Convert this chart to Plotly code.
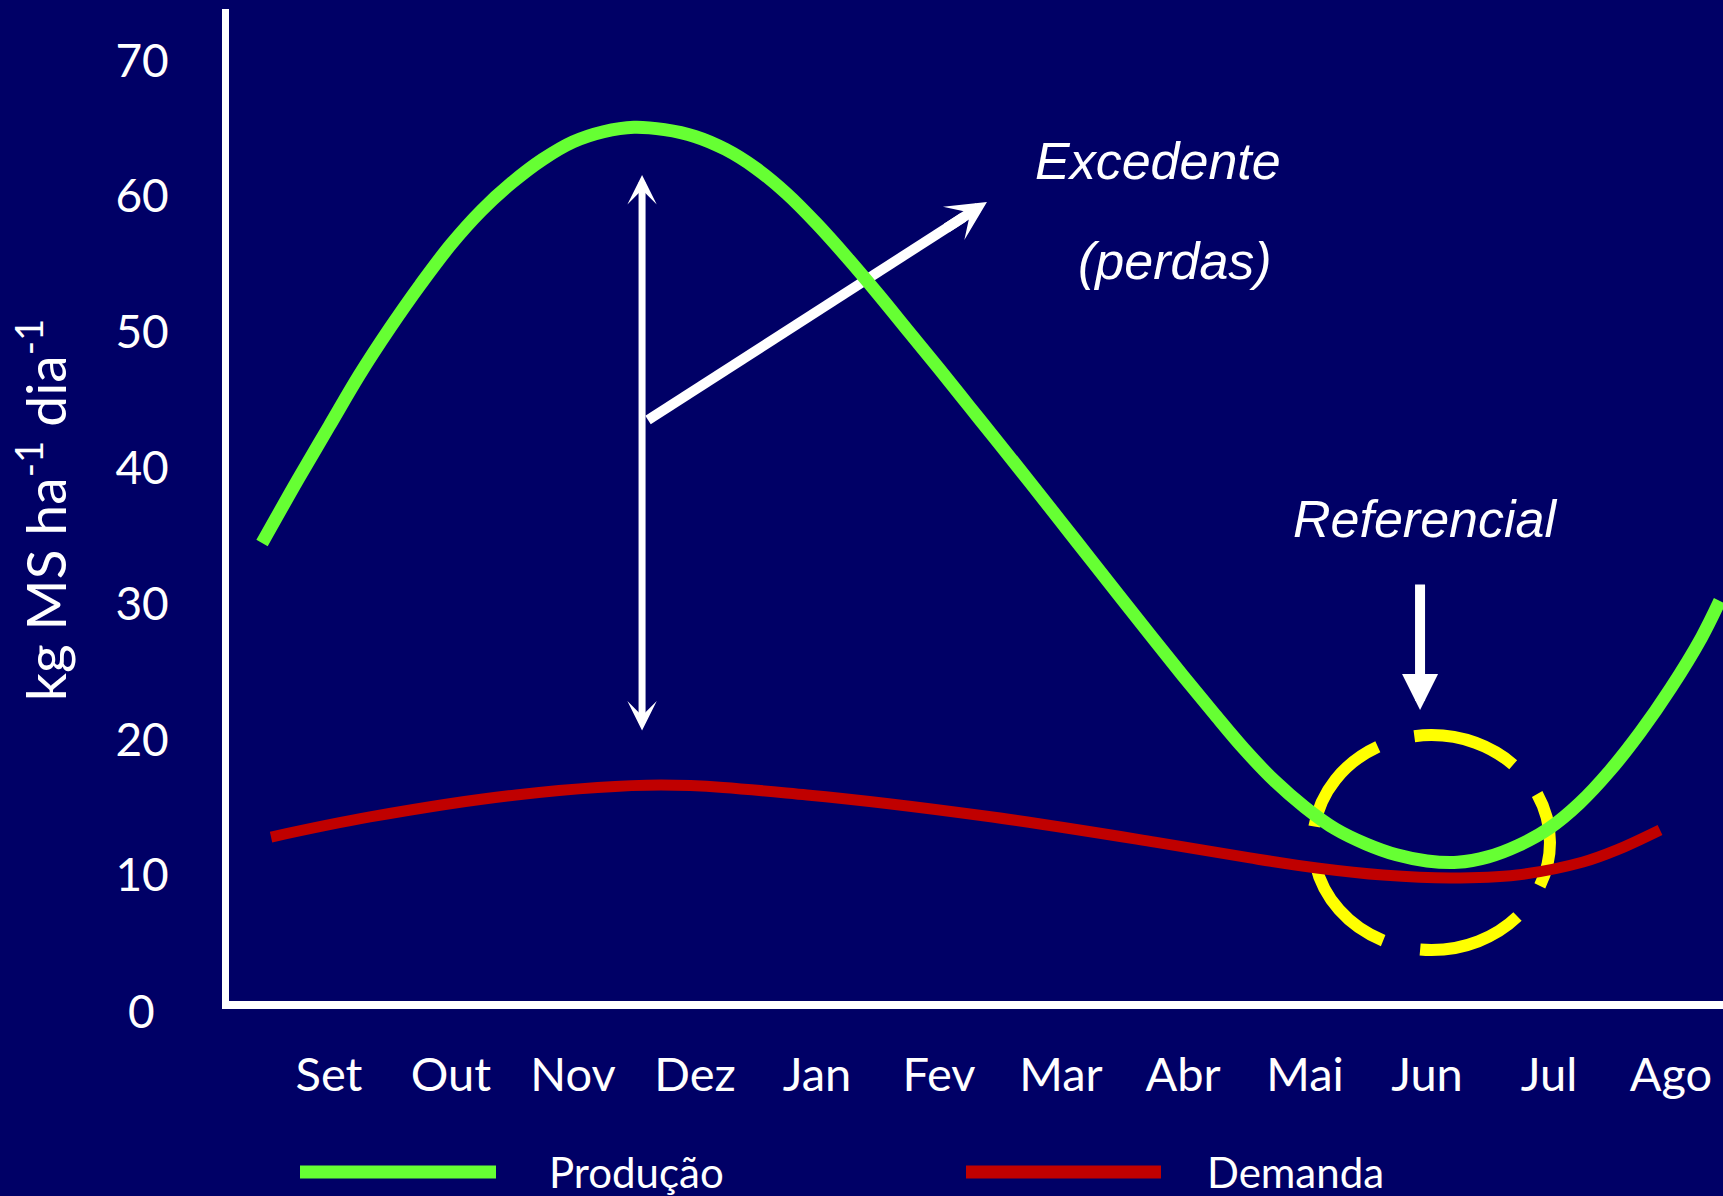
import plotly.graph_objects as go

# ---------------- data ----------------
months = ["Set", "Out", "Nov", "Dez", "Jan", "Fev", "Mar", "Abr", "Mai", "Jun", "Jul", "Ago"]
month_idx = list(range(len(months)))
y_tick_vals = [10, 20, 30, 40, 50, 60, 70]

# Produção (green) – x in month units (0 = Set)
prod_x = [-0.549, -0.25, 0.00, 0.25, 0.50, 0.75, 1.00, 1.25, 1.50, 1.75, 2.00, 2.25, 2.50,
          2.75, 3.00, 3.25, 3.50, 3.75, 4.00, 4.25, 4.50, 4.75, 5.00, 5.25, 5.50, 5.75,
          6.00, 6.25, 6.50, 6.75, 7.00, 7.25, 7.50, 7.75, 8.00, 8.25, 8.50, 8.75, 9.00,
          9.25, 9.50, 9.75, 10.00, 10.25, 10.50, 10.75, 11.00, 11.25, 11.40]
prod_y = [34.46, 39.21, 43.04, 46.85, 50.30, 53.50, 56.45, 58.95, 61.00, 62.70, 64.00,
          64.75, 65.08, 64.90, 64.40, 63.45, 62.05, 60.20, 57.95, 55.45, 52.80, 50.05,
          47.30, 44.50, 41.70, 38.88, 36.03, 33.17, 30.32, 27.48, 24.68, 21.95, 19.30,
          16.95, 15.00, 13.40, 12.30, 11.50, 11.05, 10.95, 11.35, 12.20, 13.45, 15.30,
          17.70, 20.55, 23.80, 27.50, 30.20]

# Demanda (red)
dem_x = [-0.475, 0.336, 1.533, 2.721, 3.918, 5.377, 6.770, 7.549, 8.098, 8.639, 9.189,
         9.738, 10.279, 10.557, 10.910]
dem_y = [12.81, 14.29, 15.91, 16.64, 15.91, 14.36, 12.44, 11.27, 10.53, 10.01, 9.79,
         10.01, 10.97, 11.86, 13.33]

# ---------------- layout constants ----------------
W, H = 1723, 1196
L, R, T, B = 229, 0, 9, 195
BG = "#000066"
GREEN = "#66FF33"
RED = "#C00000"
YELLOW = "#FFFF00"
WHITE = "#FFFFFF"
SANS = "Lato, 'Open Sans', sans-serif"
ARIAL = "'Liberation Sans', Arial, sans-serif"


def px_x(p):
    return (p - L) / (W - L - R)


def px_y(p):
    return (H - B - p) / (H - T - B)


fig = go.Figure()
fig.add_trace(go.Scatter(x=prod_x, y=prod_y, mode="lines", name="Produção",
                         line=dict(color=GREEN, width=13, shape="spline", smoothing=1),
                         showlegend=False, hoverinfo="skip"))
fig.add_trace(go.Scatter(x=dem_x, y=dem_y, mode="lines", name="Demanda",
                         line=dict(color=RED, width=11, shape="spline", smoothing=1),
                         showlegend=False, hoverinfo="skip"))

shapes = [
    # dashed yellow ellipse ("Referencial")
    dict(type="circle", xref="x", yref="y", x0=8.066, x1=10.008, y0=4.49, y1=20.32,
         line=dict(color=YELLOW, width=12,
                   dash="45px,38px,106px,38px,106px,38px,106px,38px,106px,38px,51px"),
         layer="below"),
    # diagonal arrow shaft (below the green curve)
    dict(type="line", xref="x", yref="y", x0=2.615, y0=43.52, x1=5.20, y1=58.45,
         line=dict(color=WHITE, width=10), layer="below"),
    # legend samples
    dict(type="line", xref="paper", yref="paper", x0=px_x(300), x1=px_x(496),
         y0=px_y(1172), y1=px_y(1172), line=dict(color=GREEN, width=13)),
    dict(type="line", xref="paper", yref="paper", x0=px_x(966), x1=px_x(1161),
         y0=px_y(1172), y1=px_y(1172), line=dict(color=RED, width=13)),
]

annotations = [
    # vertical double arrow
    dict(x=2.566, y=61.56, ax=2.566, ay=20.55, xref="x", yref="y", axref="x", ayref="y",
         text="", showarrow=True, arrowside="end+start", arrowhead=3, startarrowhead=3,
         arrowwidth=7, arrowsize=0.7, startarrowsize=0.7, arrowcolor=WHITE),
    # diagonal arrow head
    dict(x=5.393, y=59.57, ax=5.050, ay=57.59, xref="x", yref="y", axref="x", ayref="y",
         text="", showarrow=True, arrowhead=3, arrowwidth=10, arrowsize=0.66,
         arrowcolor=WHITE),
    # down arrow to the circle
    dict(x=8.943, y=22.16, ax=8.943, ay=31.52, xref="x", yref="y", axref="x", ayref="y",
         text="", showarrow=True, arrowhead=2, arrowwidth=10, arrowsize=0.72,
         arrowcolor=WHITE),
    # texts
    dict(x=6.795, y=62.6, xref="x", yref="y", text="Excedente", showarrow=False,
         font=dict(family=ARIAL, size=52, color=WHITE, style="italic")),
    dict(x=6.934, y=55.2, xref="x", yref="y", text="(perdas)", showarrow=False,
         font=dict(family=ARIAL, size=52, color=WHITE, style="italic")),
    dict(x=8.984, y=36.2, xref="x", yref="y", text="Referencial", showarrow=False,
         font=dict(family=ARIAL, size=52, color=WHITE, style="italic")),
    # y = 0 label
    dict(x=px_x(141), y=px_y(1011), xref="paper", yref="paper", text="0", showarrow=False,
         xanchor="center", yanchor="middle", font=dict(family=SANS, size=46, color=WHITE)),
    # y-axis title
    dict(x=px_x(41), y=px_y(510), xref="paper", yref="paper",
         text="kg MS ha<sup>-1</sup> dia<sup>-1</sup>", textangle=-90, showarrow=False,
         xanchor="center", yanchor="middle", font=dict(family=SANS, size=55, color=WHITE)),
    # legend labels
    dict(x=px_x(547), y=px_y(1172), xref="paper", yref="paper", text="Produção",
         showarrow=False, xanchor="left", yanchor="middle",
         font=dict(family=SANS, size=42, color=WHITE)),
    dict(x=px_x(1205), y=px_y(1172), xref="paper", yref="paper", text="Demanda",
         showarrow=False, xanchor="left", yanchor="middle",
         font=dict(family=SANS, size=42, color=WHITE)),
]

fig.update_layout(
    width=W, height=H,
    margin=dict(l=L, r=R, t=T, b=B, pad=0),
    paper_bgcolor=BG, plot_bgcolor=BG,
    showlegend=False,
    shapes=shapes, annotations=annotations,
    xaxis=dict(range=[-0.8197, 11.4262], tickmode="array", tickvals=month_idx,
               ticktext=months, showline=True, linecolor=WHITE, linewidth=8,
               showgrid=False, zeroline=False, ticks="", ticklabelstandoff=26,
               tickfont=dict(family=SANS, size=47, color=WHITE)),
    yaxis=dict(range=[0.7364, 73.785], tickmode="array", tickvals=y_tick_vals,
               showline=True, linecolor=WHITE, linewidth=7, showgrid=False,
               zeroline=False, ticks="", ticklabelstandoff=44,
               tickfont=dict(family=SANS, size=46, color=WHITE)),
)

fig.write_html(
    "out.html",
    config={"displayModeBar": False},
    post_script="document.body.style.margin='0';document.body.style.overflow='hidden';"
                "document.body.style.background='" + BG + "';",
)
